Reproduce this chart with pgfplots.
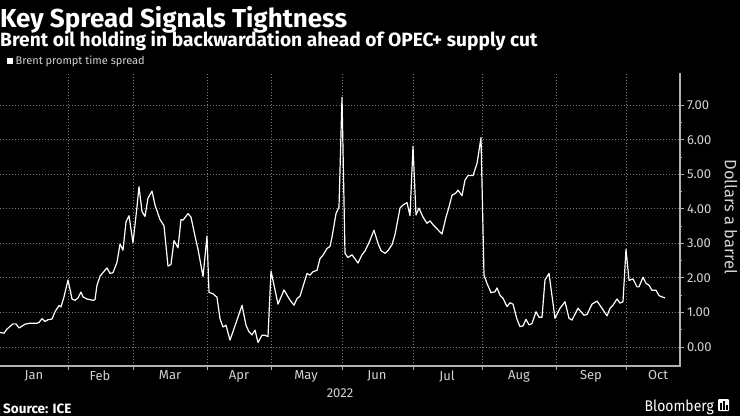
\documentclass[border=0pt]{standalone}
\usepackage{pgfplots}
\pgfplotsset{compat=1.18}
\usepackage{fontspec}
\setmainfont{Fira Sans}
\newfontfamily\narrowfont[FakeStretch=0.9]{Fira Sans}
\definecolor{gridc}{HTML}{7A7A7A}
\definecolor{axisc}{HTML}{B0B0B0}
\definecolor{labc}{HTML}{D2D2D2}
\begin{document}
\begin{tikzpicture}[x=1pt,y=1pt]
\fill[black] (0pt,0pt) rectangle (740pt,-416pt);
\useasboundingbox (0pt,0pt) rectangle (740pt,-416pt);
\node[anchor=base west, text=white, inner sep=0] at (0pt,-27pt) {\bfseries\fontsize{26}{26}\selectfont Key Spread Signals Tightness};
\node[anchor=base west, text=white, inner sep=0] at (0pt,-46pt) {\bfseries\fontsize{19.2}{19.2}\selectfont Brent oil holding in backwardation ahead of OPEC+ supply cut};
\fill[white] (7pt,-57.5pt) rectangle (13pt,-64pt);
\node[anchor=base west, text=labc, inner sep=0] at (15.5pt,-64.5pt) {\fontsize{11}{11}\selectfont Brent prompt time spread};
\begin{axis}[
  at={(0pt,-366pt)}, anchor=south west,
  scale only axis, width=680pt, height=293pt,
  xmin=0, xmax=680, ymin=-0.55, ymax=7.93,
  axis x line*=bottom, axis y line*=right,
  axis line style={-, axisc, line width=1.2pt},
  xtick={68,133,207,271,342,413,482,556,626},
  xticklabels={},
  extra x ticks={34,100,170,239,306,377,447,519,591,658},
  extra x tick labels={Jan,Feb,Mar,Apr,May,Jun,Jul,Aug,Sep,Oct},
  extra x tick style={major tick length=0pt, grid=none},
  ytick={0,1,2,3,4,5,6,7},
  minor y tick num=1,
  xmajorgrids, ymajorgrids,
  major grid style={gridc, line width=0.8pt, dash pattern=on 1.2pt off 1.8pt},
  tick align=outside, major tick length=3.5pt, minor tick length=2pt,
  tick style={axisc, line width=0.8pt},
  /pgf/number format/assume math mode=true,
  yticklabel style={/pgf/number format/fixed, /pgf/number format/fixed zerofill, /pgf/number format/precision=2},
  y tick label style={text=labc, font=\fontsize{13}{13}\selectfont, anchor=west, xshift=0pt},
  x tick label style={text=labc, font=\fontsize{13}{13}\selectfont, yshift=-1pt},
  clip=false,
]
\addplot[white, line width=1.2pt, line join=round] coordinates {
(0,0.42)(4,0.40)(7,0.52)(13,0.67)(16,0.67)(19,0.55)(25,0.66)(30,0.69)(37,0.69)(39,0.71)
(42,0.82)(45,0.74)(48,0.79)(52,0.81)(55,1.02)(59,1.20)(61,1.16)(64,1.45)(68,1.94)(72,1.39)
(75,1.35)(78,1.42)(81,1.59)(83,1.45)(87,1.39)(93,1.35)(95,1.37)(97,1.79)(100,2.05)(107,2.29)
(110,2.13)(113,2.15)(117,2.45)(120,2.98)(123,2.80)(126,3.62)(129,3.80)(133,3.02)(137,4.06)(139,4.64)
(142,3.92)(145,3.78)(148,4.31)(152,4.51)(155,4.11)(160,3.69)(164,3.51)(168,2.34)(171,2.39)(174,3.08)
(178,2.87)(181,3.69)(183,3.67)(188,3.86)(191,3.76)(195,3.21)(198,2.83)(203,2.04)(207,3.21)(209,1.58)
(213,1.54)(217,1.44)(220,0.82)(223,0.58)(226,0.63)(230,0.20)(237,0.78)(242,1.21)(246,0.63)(249,0.44)
(252,0.35)(255,0.49)(258,0.13)(262,0.34)(265,0.34)(268,0.30)(271,2.20)(278,1.24)(284,1.65)(290,1.36)
(294,1.21)(297,1.40)(300,1.47)(307,2.13)(310,2.08)(313,2.18)(317,2.22)(320,2.56)(323,2.66)(327,2.85)
(330,2.91)(332,3.18)(336,3.86)(339,4.05)(342,7.23)(345,2.71)(348,2.59)(352,2.67)(358,2.43)(362,2.67)
(365,2.78)(369,3.02)(374,3.38)(378,3.00)(381,2.79)(385,2.71)(388,2.79)(392,2.96)(395,3.25)(400,4.02)
(403,4.11)(407,4.18)(410,3.80)(413,5.81)(416,3.82)(419,4.02)(423,3.76)(427,3.58)(430,3.65)(433,3.54)
(438,3.39)(442,3.27)(446,3.76)(449,4.05)(452,4.39)(456,4.46)(458,4.54)(462,4.38)(465,4.83)(468,4.96)
(473,4.96)(477,5.31)(481,6.06)(484,2.08)(487,1.84)(491,1.57)(495,1.60)(497,1.71)(500,1.50)(503,1.41)
(507,1.17)(510,1.28)(513,1.24)(517,0.80)(520,0.59)(523,0.61)(526,0.80)(529,0.64)(532,0.68)(536,1.02)
(539,0.86)(542,0.86)(545,1.94)(549,2.13)(555,0.83)(560,1.12)(565,1.31)(569,0.83)(572,0.78)(578,1.12)
(584,0.92)(587,0.94)(592,1.24)(597,1.33)(602,1.12)(607,0.90)(610,1.12)(613,1.21)(617,1.39)(620,1.27)
(623,1.31)(626,2.83)(629,1.93)(633,1.97)(637,1.74)(639,1.74)(643,2.02)(646,1.84)(649,1.79)(652,1.64)
(656,1.64)(659,1.49)(662,1.45)(665,1.42)
};
\end{axis}
\draw[axisc, line width=1.6pt] (0pt,-366pt) -- (681pt,-366pt);
\node[text=labc, inner sep=0] at (340pt,-393pt) {\fontsize{13}{13}\selectfont 2022};
\node[rotate=-90, text=labc, inner sep=0] at (731pt,-217pt) {\fontsize{16.5}{16.5}\selectfont Dollars a barrel};
\node[anchor=base west, text=white, inner sep=0] at (3pt,-413pt) {\bfseries\fontsize{13.5}{13.5}\selectfont Source: ICE};
\node[anchor=base east, text=white, inner sep=0] at (714pt,-411pt) {\narrowfont\fontsize{15.5}{15.5}\selectfont Bloomberg};
\fill[white, rounded corners=1pt] (718pt,-399pt) rectangle (729pt,-411pt);
\fill[black] (720pt,-403pt) rectangle (721.5pt,-409.5pt);
\fill[black] (723pt,-401pt) rectangle (724.5pt,-409.5pt);
\fill[black] (726pt,-404.5pt) rectangle (727.5pt,-409.5pt);
\end{tikzpicture}
\end{document}
